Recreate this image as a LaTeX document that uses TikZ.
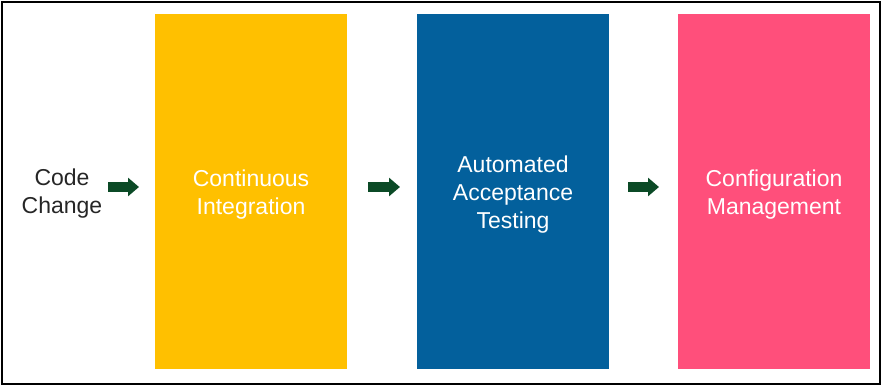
\documentclass[tikz,border=0pt]{standalone}
\usepackage{fontspec}
\setmainfont{Liberation Sans}
\usetikzlibrary{arrows.meta}

\definecolor{ciyellow}{HTML}{FFC000}
\definecolor{atblue}{HTML}{03609C}
\definecolor{cmpink}{HTML}{FF4F7B}
\definecolor{flowgreen}{HTML}{0B4A26}

\begin{document}
\begin{tikzpicture}[x=1pt,y=1pt,
	stage/.style={minimum width=192pt,minimum height=355pt,inner sep=0,outer sep=0},
	stagetext/.style={align=center,text=white,inner sep=0,yshift=-3.5pt,font=\fontsize{23}{28}\selectfont},
	flow/.style={draw=flowgreen,line width=10pt,-{Triangle[length=11pt,width=18pt]}}]
	\useasboundingbox (0,0) rectangle (882,386);
	\draw[line width=2.2pt] (2,2) rectangle (880,384);
	\node[align=center,inner sep=0,text=black!85,font=\fontsize{23}{28}\selectfont] (code) at (62,192) {Code\\Change};
	\node[stage,fill=ciyellow,label={[stagetext]center:{Continuous\\Integration}}] (ci) at (251,194.5) {};
	\node[stage,fill=atblue,label={[stagetext]center:{Automated\\Acceptance\\Testing}}] (at) at (513,194.5) {};
	\node[stage,fill=cmpink,label={[stagetext]center:{Configuration\\Management}}] (cm) at (774,194.5) {};
	\draw[flow] ([xshift=6pt,yshift=7pt]code.east) -- ([xshift=-16pt,yshift=4.5pt]ci.west);
	\draw[flow] ([xshift=21pt,yshift=4.5pt]ci.east) -- ([xshift=-17pt,yshift=4.5pt]at.west);
	\draw[flow] ([xshift=19pt,yshift=4.5pt]at.east) -- ([xshift=-19pt,yshift=4.5pt]cm.west);
\end{tikzpicture}
\end{document}
